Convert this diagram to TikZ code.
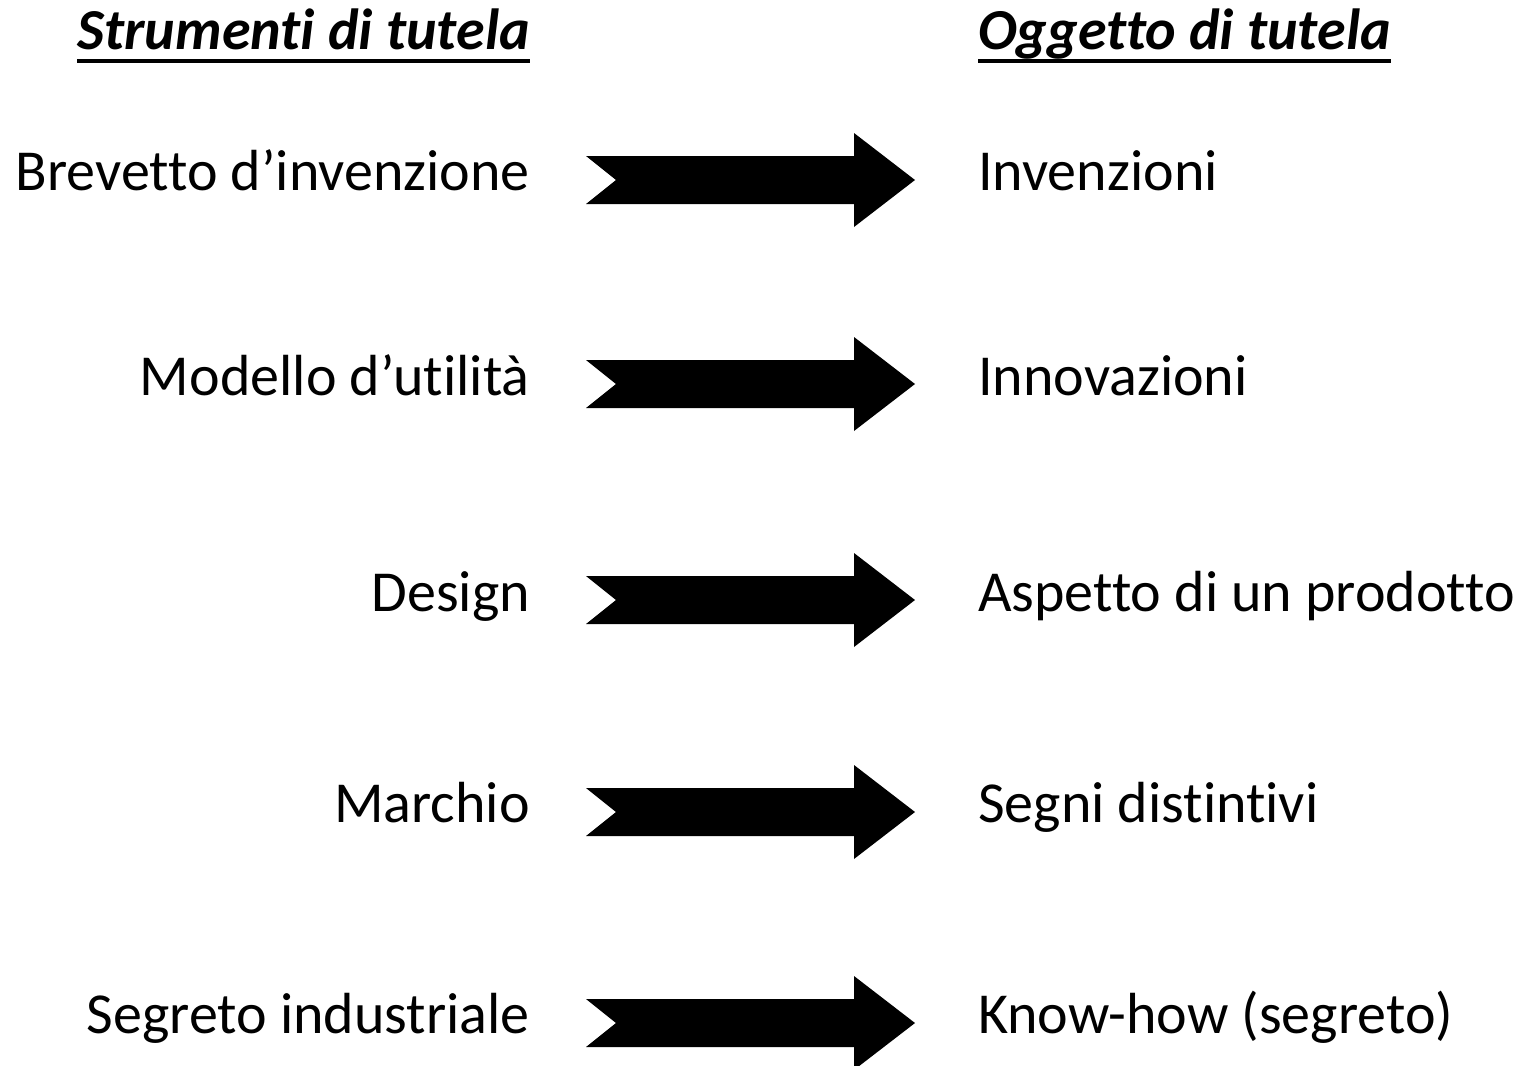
\documentclass[tikz,border=0pt]{standalone}
\usepackage{fontspec}
\setmainfont{Carlito}[RawFeature={-liga}]
\usetikzlibrary{calc}

\tikzset{
  strumento/.style={anchor=base east, inner sep=0pt, font=\fontsize{58}{64}\selectfont},
  oggetto/.style={anchor=base west, inner sep=0pt, font=\fontsize{58}{64}\selectfont},
  titolo/.style={inner sep=0pt, font=\fontsize{58}{64}\selectfont\bfseries\itshape},
  sottolinea/.style={line width=3.5pt},
  freccia/.style={fill=black, to path={
    let \p1=(\tikztostart), \p2=(\tikztotarget) in
    (\x1,\y1+24pt) -- (\x2-61pt,\y1+24pt) -- (\x2-61pt,\y1+47pt) -- (\x2,\y2)
    -- (\x2-61pt,\y1-47pt) -- (\x2-61pt,\y1-24pt) -- (\x1,\y1-24pt) -- (\x1+30pt,\y1) -- cycle}}
}

\begin{document}
\begin{tikzpicture}[x=1pt,y=-1pt]
        \useasboundingbox (0,0) rectangle (1535,1066);
        % Titles
        \node[titolo, anchor=base east] (st) at (530,49) {Strumenti di tutela};
        \node[titolo, anchor=base west] (ot) at (978,49) {Oggetto di tutela};
        \draw[sottolinea] ($(st.base west)+(0,12)$) -- ($(st.base east)+(0,12)$);
        \draw[sottolinea] ($(ot.base west)+(0,12)$) -- ($(ot.base east)+(0,12)$);
        % Left column
        \node[strumento] (s1) at (530,190) {Brevetto d’invenzione};
        \node[strumento] (s2) at (530,395) {Modello d’utilità};
        \node[strumento] (s3) at (530,611) {Design};
        \node[strumento] (s4) at (530,822) {Marchio};
        \node[strumento] (s5) at (530,1033) {Segreto industriale};
        % Right column
        \node[oggetto] (o1) at (978,190) {Invenzioni};
        \node[oggetto] (o2) at (978,395) {Innovazioni};
        \node[oggetto] (o3) at (978,611) {Aspetto di un prodotto};
        \node[oggetto] (o4) at (978,822) {Segni distintivi};
        \node[oggetto] (o5) at (978,1033) {Know-how (segreto)};
        % Arrows
        \path[freccia] ($(s1.base east)+(56,-10)$) to ($(o1.base west)+(-63,-10)$);
        \path[freccia] ($(s2.base east)+(56,-11)$) to ($(o2.base west)+(-63,-11)$);
        \path[freccia] ($(s3.base east)+(56,-11)$) to ($(o3.base west)+(-63,-11)$);
        \path[freccia] ($(s4.base east)+(56,-10)$) to ($(o4.base west)+(-63,-10)$);
        \path[freccia] ($(s5.base east)+(56,-10)$) to ($(o5.base west)+(-63,-10)$);
\end{tikzpicture}
\end{document}
